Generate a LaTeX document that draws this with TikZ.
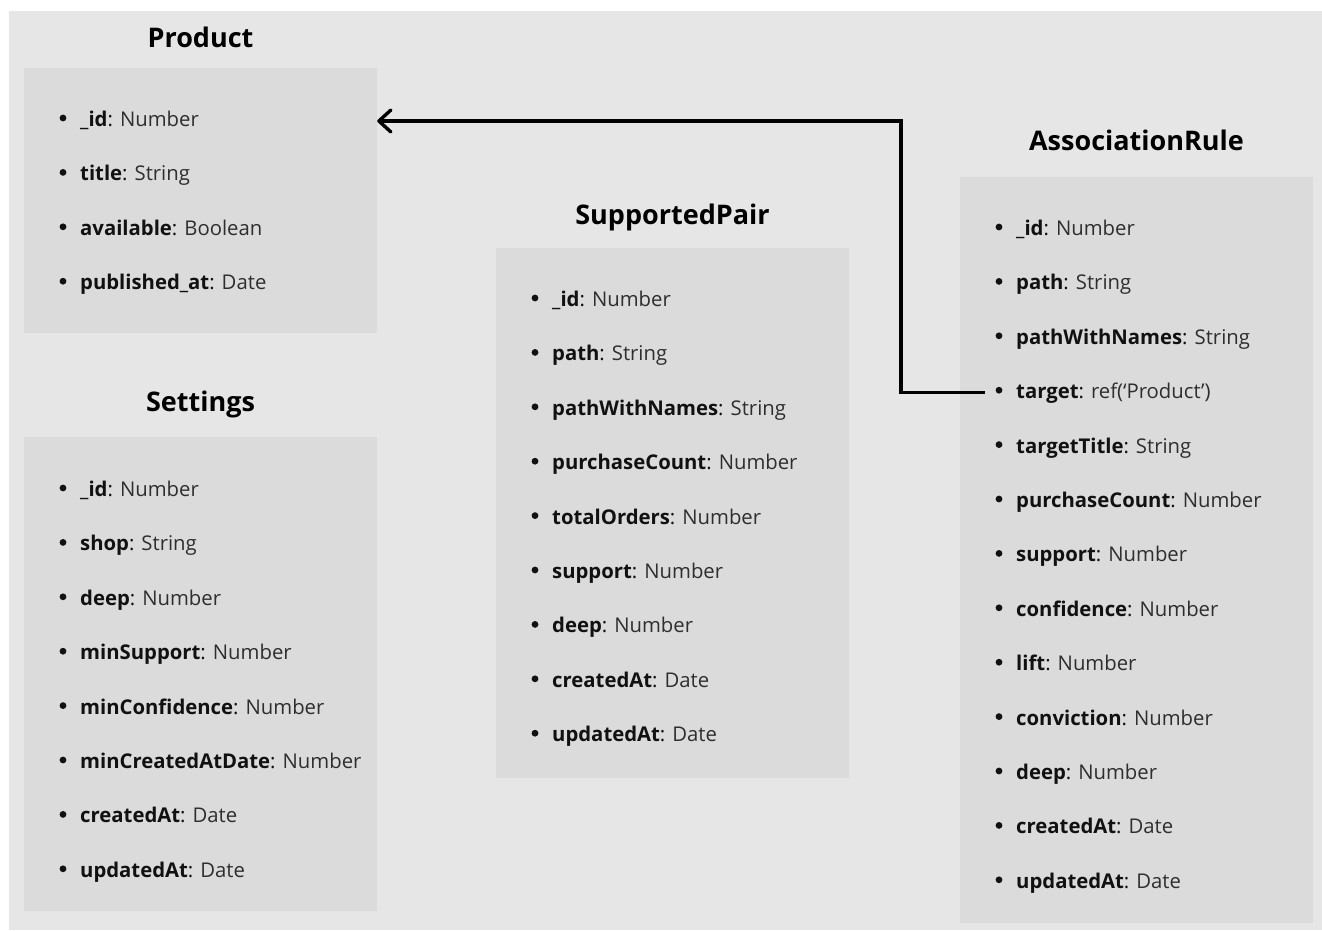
\documentclass[tikz,border=0pt]{standalone}
\usepackage{fontspec}
\setmainfont{Open Sans}
\usetikzlibrary{arrows.meta}
\definecolor{pagebg}{HTML}{E6E6E6}
\definecolor{boxbg}{HTML}{DBDBDB}
\definecolor{ink}{HTML}{111111}
\definecolor{typeink}{HTML}{2E2E2E}

% rows of one entity: #1 name prefix, #2 left edge of its box, #3 y of first row, #4 field/type list
\newcommand\entityrows[4]{%
  \foreach \k/\t [count=\i from 0] in {#4} {
    \pgfmathsetmacro\yy{#3+54.4*\i}
    \fill[ink] (#2+39,\yy-1) circle (3.4pt);
    \node[field] (#1-\i) at (#2+56,\yy) {\textbf{\k}: {\color{typeink}\t}};
  }}

\begin{document}
\begin{tikzpicture}[x=1pt,y=-1pt,
  entitybox/.style={fill=boxbg, draw=none, inner sep=0},
  entitytitle/.style={font=\bfseries\fontsize{27}{31}\selectfont, text=black, inner sep=0,
    text height=19pt, text depth=0pt},
  field/.style={anchor=west, inner sep=0, text=ink, font=\fontsize{20.3}{24}\selectfont,
    text height=15pt, text depth=0pt},
  conn/.style={line width=3.4pt, line join=miter, line cap=butt,
    -{Straight Barb[length=12pt,width=22pt,line cap=round,line join=round]}}]

\useasboundingbox (0,0) rectangle (1322,930);
\fill[pagebg] (9,11) rectangle (1322,930);

% entity boxes
\node[entitybox, minimum width=353pt, minimum height=265pt] (product) at (200.5,200.5) {};
\node[entitybox, minimum width=353pt, minimum height=474pt] (settings) at (200.5,674) {};
\node[entitybox, minimum width=353pt, minimum height=530pt] (pair) at (672.5,513) {};
\node[entitybox, minimum width=353pt, minimum height=746pt] (rule) at (1136.5,550) {};

% titles
\node[entitytitle] (product-title) at (200.5,38) {Product};
\node[entitytitle] (settings-title) at (200.5,402) {Settings};
\node[entitytitle] (pair-title) at (672.5,215) {SupportedPair};
\node[entitytitle] (rule-title) at (1136.5,141) {AssociationRule};

% fields
\entityrows{p}{24}{119}{\_id/Number, title/String, available/Boolean, published\_at/Date}
\entityrows{s}{24}{489}{\_id/Number, shop/String, deep/Number, minSupport/Number,
  minConfidence/Number, minCreatedAtDate/Number, createdAt/Date, updatedAt/Date}
\entityrows{sp}{496}{299}{\_id/Number, path/String, pathWithNames/String,
  purchaseCount/Number, totalOrders/Number, support/Number, deep/Number,
  createdAt/Date, updatedAt/Date}
\entityrows{ar}{960}{228}{\_id/Number, path/String, pathWithNames/String,
  target/ref(‘Product’), targetTitle/String, purchaseCount/Number, support/Number,
  confidence/Number, lift/Number, conviction/Number, deep/Number,
  createdAt/Date, updatedAt/Date}

% reference: AssociationRule.target -> Product
\coordinate (elbow) at (901,0);
\draw[conn] ([xshift=-31pt,yshift=-1pt]ar-3.west) -- ([yshift=-1pt]ar-3.west -| elbow)
  |- ([yshift=-2pt]product.east |- p-0.west);
\end{tikzpicture}
\end{document}
